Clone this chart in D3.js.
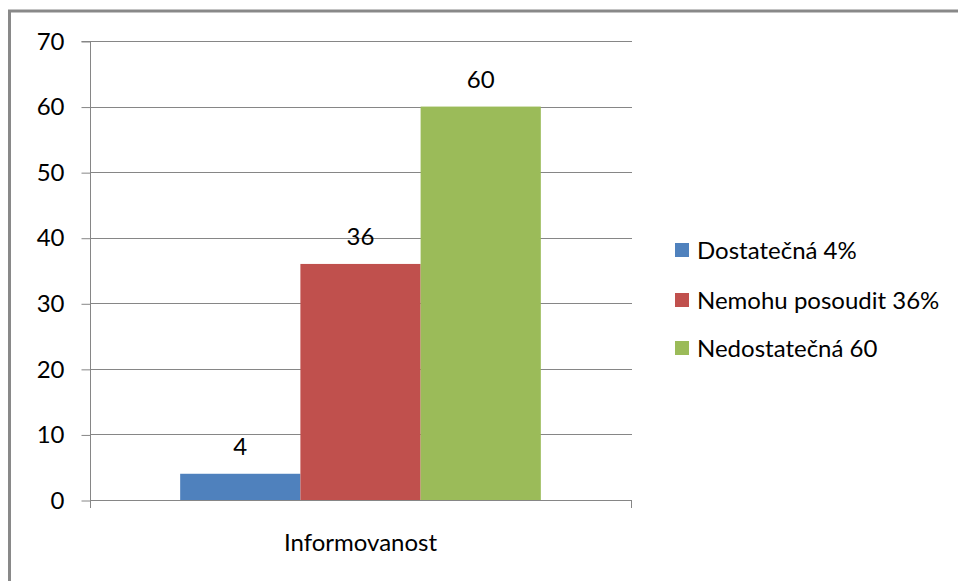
<!DOCTYPE html>
<html>
<head>
<meta charset="utf-8">
<script src="https://cdn.jsdelivr.net/npm/d3@7"></script>
<style>
  html, body { margin: 0; padding: 0; background: #fff; }
  svg { display: block; }
  text { font-family: Lato, "Open Sans", sans-serif; fill: #000; }
</style>
</head>
<body>
<svg id="chart" width="958" height="581"></svg>
<script>
// Chart data
const categories = ["Informovanost"];
const seriesNames = ["Dostatečná 4%", "Nemohu posoudit 36%", "Nedostatečná 60"];
const seriesValues = [4, 36, 60];
const seriesColors = ["#4F81BD", "#C0504D", "#9BBB59"];
const yTicks = [0, 10, 20, 30, 40, 50, 60, 70];

const svg = d3.select("#chart");
const W = 958, H = 581;

// Outer frame (runs past the right and bottom edges)
svg.append("rect")
  .attr("x", 9.5).attr("y", 11)
  .attr("width", W + 20).attr("height", H + 20)
  .attr("fill", "#fff")
  .attr("stroke", "#898989")
  .attr("stroke-width", 3);

const plot = { left: 90, right: 631, top: 41, bottom: 500 };

const y = d3.scaleLinear().domain([0, 70]).range([plot.bottom, plot.top]);
const x0 = d3.scaleBand().domain(categories)
  .range([plot.left, plot.right]).paddingInner(0).paddingOuter(0.25);
const x1 = d3.scaleBand().domain(seriesNames).range([0, x0.bandwidth()]);

const gridColor = "#868686";

// Horizontal gridlines
svg.append("g").selectAll("line")
  .data(yTicks.filter(t => t > 0))
  .join("line")
  .attr("x1", plot.left).attr("x2", plot.right + 1)
  .attr("y1", d => Math.round(y(d)) + 0.5)
  .attr("y2", d => Math.round(y(d)) + 0.5)
  .attr("stroke", gridColor).attr("stroke-width", 1);

// Bars
const group = svg.append("g");
categories.forEach(cat => {
  group.selectAll("rect.bar")
    .data(seriesValues.map((v, i) => ({ name: seriesNames[i], value: v, color: seriesColors[i] })))
    .join("rect")
    .attr("class", "bar")
    .attr("x", d => x0(cat) + x1(d.name))
    .attr("y", d => y(d.value))
    .attr("width", x1.bandwidth())
    .attr("height", d => y(0) - y(d.value))
    .attr("fill", d => d.color);

  // Value labels above bars
  group.selectAll("text.val")
    .data(seriesValues.map((v, i) => ({ name: seriesNames[i], value: v })))
    .join("text")
    .attr("class", "val")
    .attr("x", d => x0(cat) + x1(d.name) + x1.bandwidth() / 2)
    .attr("y", d => y(d.value) - 19)
    .attr("text-anchor", "middle")
    .attr("font-size", 24)
    .text(d => d.value);
});

// Y axis
const yAxis = d3.axisLeft(y).tickValues(yTicks).tickSize(9).tickPadding(17);
const ya = svg.append("g").attr("transform", `translate(${plot.left + 0.5},0.5)`).call(yAxis);
ya.select(".domain").attr("stroke", gridColor).attr("d", `M-9,${plot.top}H0V${plot.bottom}`);
ya.selectAll(".tick line").attr("stroke", gridColor);
ya.selectAll(".tick text").attr("font-size", 24).attr("fill", "#000")
  .style("font-family", "Lato, 'Open Sans', sans-serif");

// X axis baseline and end ticks
const xAxisG = svg.append("g");
xAxisG.append("line")
  .attr("x1", plot.left).attr("x2", plot.right + 1)
  .attr("y1", plot.bottom + 0.5).attr("y2", plot.bottom + 0.5)
  .attr("stroke", gridColor);
[plot.left, plot.right].forEach(px => {
  xAxisG.append("line")
    .attr("x1", px + 0.5).attr("x2", px + 0.5)
    .attr("y1", plot.bottom).attr("y2", plot.bottom + 8)
    .attr("stroke", gridColor);
});
xAxisG.selectAll("text.cat")
  .data(categories).join("text")
  .attr("class", "cat")
  .attr("x", d => x0(d) + x0.bandwidth() / 2)
  .attr("y", 551)
  .attr("text-anchor", "middle")
  .attr("font-size", 24)
  .text(d => d);

// Legend
const legend = svg.append("g");
const legendRows = [250, 300, 348];
seriesNames.forEach((name, i) => {
  legend.append("rect")
    .attr("x", 675).attr("y", legendRows[i] - 7)
    .attr("width", 14).attr("height", 14)
    .attr("fill", seriesColors[i]);
  legend.append("text")
    .attr("x", 697).attr("y", legendRows[i] + 8.5)
    .attr("font-size", 24)
    .text(name);
});
</script>
</body>
</html>
